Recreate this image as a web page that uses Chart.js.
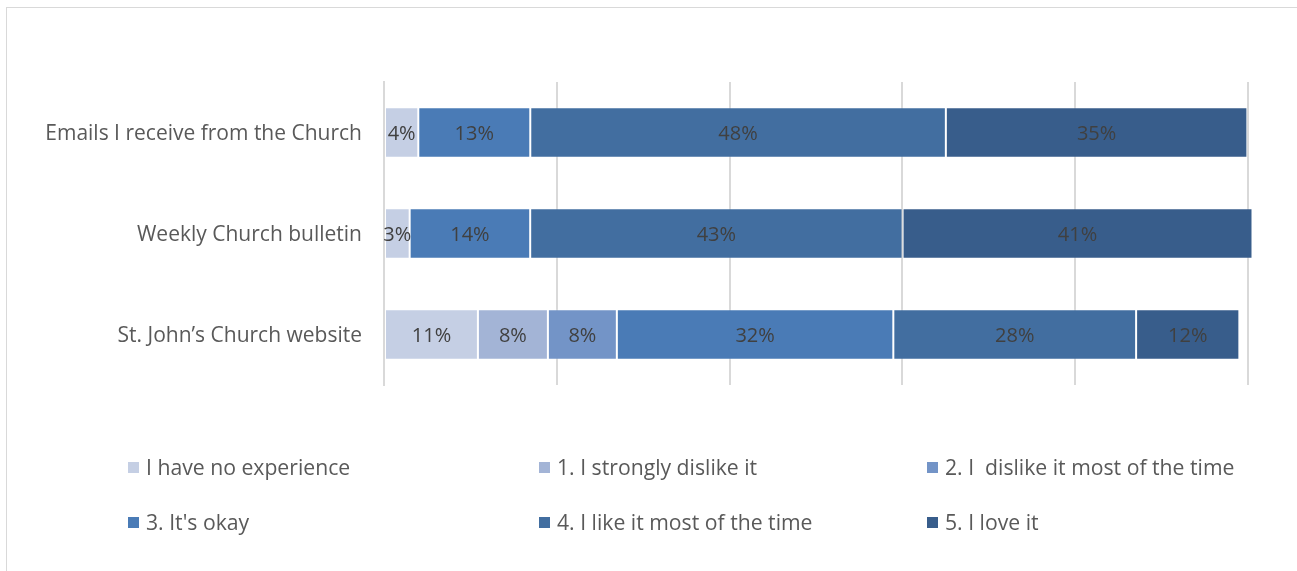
<!DOCTYPE html>
<html>
<head>
<meta charset="utf-8">
<script src="https://cdn.jsdelivr.net/npm/chart.js@4.4.1/dist/chart.umd.min.js"></script>
<style>
  html, body { margin: 0; padding: 0; background: #ffffff; }
  #wrap { position: relative; width: 1297px; height: 571px; overflow: hidden; }
  #frame { position: absolute; left: 6px; top: 7px; width: 1400px; height: 700px; border: 1px solid #d9d9d9; box-sizing: border-box; }
  #c { position: absolute; left: 0; top: 0; }
  #legend { position: absolute; left: 0; top: 0; width: 1297px; height: 571px; pointer-events: none; }
  .item { position: absolute; display: flex; align-items: center; font-family: "Open Sans", sans-serif; font-size: 21.2px; color: #595959; white-space: pre; line-height: 24px; }
  .box { width: 11px; height: 11px; margin-right: 7px; }
</style>
</head>
<body>
<div id="wrap">
  <div id="frame"></div>
  <canvas id="c" width="1297" height="571"></canvas>
  <div id="legend"></div>
</div>
<script>
const categories = ["Emails I receive from the Church", "Weekly Church bulletin", "St. John\u2019s Church website"];
const seriesNames = ["I have no experience", "1. I strongly dislike it", "2. I  dislike it most of the time", "3. It's okay", "4. I like it most of the time", "5. I love it"];
const seriesColors = ["#c5cfe4", "#a3b4d6", "#7394c7", "#4a7bb6", "#426ea0", "#385d8b"];
const noExperience = [3.97, 2.97, 10.87];
const stronglyDislike = [0, 0, 8.10];
const dislikeMost = [0, 0, 7.98];
const itsOkay = [12.96, 13.95, 32.0];
const likeMost = [48.1, 43.1, 28.1];
const loveIt = [34.9, 40.5, 11.95];
const seriesValues = [noExperience, stronglyDislike, dislikeMost, itsOkay, likeMost, loveIt];
const xTicks = [0, 20, 40, 60, 80, 100];

const labelPlugin = {
  id: 'segLabels',
  afterDatasetsDraw(chart) {
    const ctx = chart.ctx;
    ctx.save();
    ctx.font = '20px "Open Sans", sans-serif';
    ctx.fillStyle = '#404040';
    ctx.textAlign = 'center';
    ctx.textBaseline = 'middle';
    chart.data.datasets.forEach((ds, di) => {
      const meta = chart.getDatasetMeta(di);
      meta.data.forEach((bar, i) => {
        const v = ds.data[i];
        if (!v) return;
        const x = (bar.x + bar.base) / 2;
        ctx.fillText(Math.round(v) + '%', x, bar.y + 1.5);
      });
    });
    ctx.restore();
  }
};

const chart = new Chart(document.getElementById('c'), {
  type: 'bar',
  data: {
    labels: categories,
    datasets: seriesNames.map((n, i) => ({
      label: n,
      data: seriesValues[i],
      backgroundColor: seriesColors[i],
      borderColor: 'rgba(255,255,255,0.2)',
      borderWidth: 1,
      borderSkipped: false,
      categoryPercentage: 1,
      barPercentage: 0.5,
      clip: false
    }))
  },
  options: {
    indexAxis: 'y',
    responsive: false,
    animation: false,
    devicePixelRatio: 1,
    layout: { padding: { left: 0, right: 49, top: 82, bottom: 186 } },
    plugins: { legend: { display: false }, tooltip: { enabled: false } },
    scales: {
      x: {
        stacked: true,
        min: 0, max: 100,
        afterBuildTicks: s => { s.ticks = xTicks.map(v => ({ value: v })); },
        ticks: { display: false },
        grid: { color: '#d9d9d9', lineWidth: 2, drawTicks: false },
        border: { display: false }
      },
      y: {
        stacked: true,
        afterFit: s => { s.width = 384; },
        ticks: { color: '#595959', font: { family: '"Open Sans", sans-serif', size: 21 }, padding: 22, labelOffset: 2 },
        grid: { display: false, drawTicks: false },
        border: { display: true, color: '#d9d9d9', width: 2 }
      }
    }
  },
  plugins: [labelPlugin]
});

// HTML legend built from the chart's datasets
const legendPos = [[128, 467], [539, 467], [927, 467], [128, 522], [539, 522], [927, 522]];
const lg = document.getElementById('legend');
chart.data.datasets.forEach((ds, i) => {
  const d = document.createElement('div');
  d.className = 'item';
  d.style.left = legendPos[i][0] + 'px';
  d.style.top = (legendPos[i][1] - 12) + 'px';
  const b = document.createElement('span');
  b.className = 'box';
  b.style.background = ds.backgroundColor;
  const t = document.createElement('span');
  t.textContent = ds.label;
  d.appendChild(b); d.appendChild(t);
  lg.appendChild(d);
});
</script>
</body>
</html>
